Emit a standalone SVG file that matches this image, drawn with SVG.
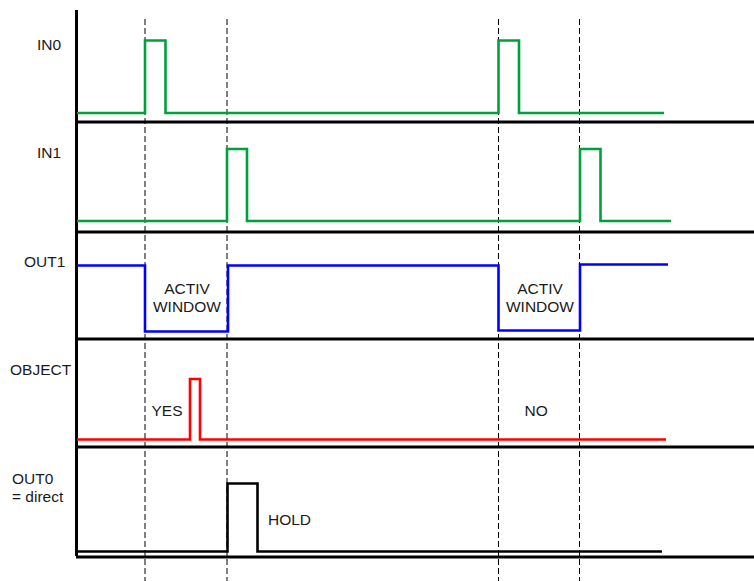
<svg xmlns="http://www.w3.org/2000/svg" width="754" height="581" viewBox="0 0 754 581">
<style>
text{font-family:"Liberation Sans",Arial,sans-serif;font-size:15.5px;fill:#1a1a1a}
.axis{stroke:#000;stroke-width:3;fill:none}
.dash{stroke:#000;stroke-width:1;stroke-dasharray:6,3;fill:none}
.sig{fill:none;stroke-width:2.6;stroke-linejoin:miter;stroke-linecap:butt}
.mid{text-anchor:middle}
</style>
<rect width="754" height="581" fill="#fff"/>
<g id="grid">
<line class="dash" x1="145" y1="19" x2="145" y2="581"/>
<line class="dash" x1="227" y1="19" x2="227" y2="581"/>
<line class="dash" x1="498.5" y1="19" x2="498.5" y2="581"/>
<line class="dash" x1="579.5" y1="19" x2="579.5" y2="581"/>
</g>
<g id="axes">
<line class="axis" x1="76.5" y1="10" x2="76.5" y2="556"/>
<line class="axis" x1="76" y1="122" x2="754" y2="122"/>
<line class="axis" x1="76" y1="232" x2="754" y2="232"/>
<line class="axis" x1="76" y1="339" x2="754" y2="339"/>
<line class="axis" x1="76" y1="447" x2="754" y2="447"/>
<line class="axis" x1="76" y1="557" x2="754" y2="557"/>
</g>
<g id="in0">
<text x="37" y="50">IN0</text>
<path class="sig" stroke="#00A03C" d="M77,113 H145 V40.5 H165.5 V113 H498.5 V40.5 H519 V113 H664"/>
</g>
<g id="in1">
<text x="37" y="158">IN1</text>
<path class="sig" stroke="#00A03C" d="M77,221 H227 V149 H247 V221 H580 V149 H600.5 V221 H671"/>
</g>
<g id="out1">
<text x="24" y="267">OUT1</text>
<path class="sig" stroke="#0000FF" d="M77,265.5 H145 V331.5 H228 V265.5 H498.5 V330.5 H580 V264.5 H668"/>
<text class="mid" x="187" y="294">ACTIV</text>
<text class="mid" x="187" y="312">WINDOW</text>
<text class="mid" x="540" y="294">ACTIV</text>
<text class="mid" x="540" y="312">WINDOW</text>
</g>
<g id="object">
<text x="10" y="375">OBJECT</text>
<path class="sig" stroke="#FF0000" d="M77,439.5 H190 V379 H200 V439.5 H666"/>
<text x="151.5" y="416">YES</text>
<text x="524.5" y="416">NO</text>
</g>
<g id="out0">
<text x="12" y="484">OUT0</text>
<text x="12" y="502">= direct</text>
<path class="sig" stroke="#000" d="M77,551.5 H227.5 V483.5 H257.5 V551.5 H662"/>
<text x="268" y="525">HOLD</text>
</g>
</svg>
